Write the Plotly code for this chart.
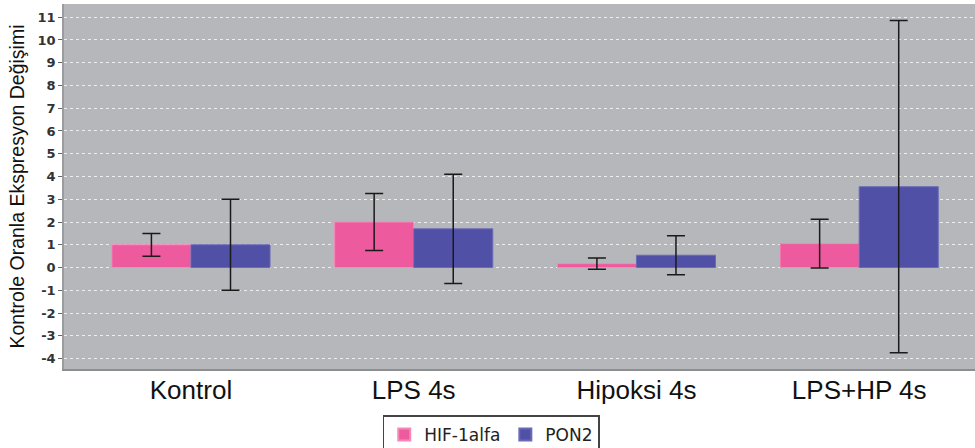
import plotly.graph_objects as go

categories = ["Kontrol", "LPS 4s", "Hipoksi 4s", "LPS+HP 4s"]
hif_values = [1.0, 2.0, 0.17, 1.05]
hif_errors = [0.5, 1.25, 0.25, 1.07]
pon_values = [1.0, 1.7, 0.54, 3.55]
pon_errors = [2.0, 2.4, 0.86, 7.3]
y_ticks = list(range(-4, 12))
y_tick_labels = [str(v).replace("\u2212", "-") for v in y_ticks]

fig = go.Figure()
fig.add_trace(go.Bar(
    name="HIF-1alfa", x=categories, y=hif_values,
    marker=dict(color="#EE5A9E", line=dict(color="#F58AB8", width=1)),
    error_y=dict(type="data", array=hif_errors, visible=True,
                 color="#1a1a1a", thickness=1.5, width=9),
))
fig.add_trace(go.Bar(
    name="PON2", x=categories, y=pon_values,
    marker=dict(color="#5050A6", line=dict(color="#6a6ab8", width=1)),
    error_y=dict(type="data", array=pon_errors, visible=True,
                 color="#1a1a1a", thickness=1.5, width=9),
))

fig.update_layout(
    width=975, height=448,
    autosize=False,
    margin=dict(l=64, r=0, t=4, b=79, autoexpand=False),
    paper_bgcolor="white",
    plot_bgcolor="#B5B7BA",
    barmode="group",
    bargap=0.29,
    bargroupgap=0.0,
    font=dict(family="Liberation Sans, Arial, sans-serif", color="#111"),
    legend=dict(
        orientation="h", x=0.469, xanchor="center", y=-0.127, yanchor="top",
        bgcolor="white", bordercolor="#444", borderwidth=1.5,
        font=dict(family="DejaVu Sans, sans-serif", size=17, color="#222"),
        itemsizing="constant", itemwidth=30, traceorder="normal",
    ),
    xaxis=dict(
        type="category", range=[-0.57, 3.52],
        tickfont=dict(family="Liberation Sans, Arial, sans-serif", size=26, color="#111"),
        ticks="", ticklabelstandoff=-3,
        showgrid=False, showline=True, linecolor="#8C8E90", linewidth=1.5,
        zeroline=False, mirror=False, automargin=False,
    ),
    yaxis=dict(
        range=[-4.46, 11.58],
        tickvals=y_ticks, ticktext=y_tick_labels,
        tickfont=dict(family="DejaVu Sans, sans-serif", size=13, color="#333", weight="bold"),
        ticks="outside", ticklen=4, tickcolor="#666", tickwidth=1,
        showgrid=True, gridcolor="rgba(255,255,255,0.75)", griddash="3px,3px",
        gridwidth=1,
        zeroline=False, automargin=False,
        showline=True, linecolor="#9A9C9E", linewidth=1.5, mirror=True,
        title=dict(text="Kontrole Oranla Ekspresyon Değişimi",
                   font=dict(family="Liberation Sans, Arial, sans-serif", size=19.5, color="#111"),
                   standoff=8),
    ),
)

fig.write_html("out.html", config={"displayModeBar": False},
               post_script="document.body.style.margin='0';document.body.style.overflow='hidden';")
